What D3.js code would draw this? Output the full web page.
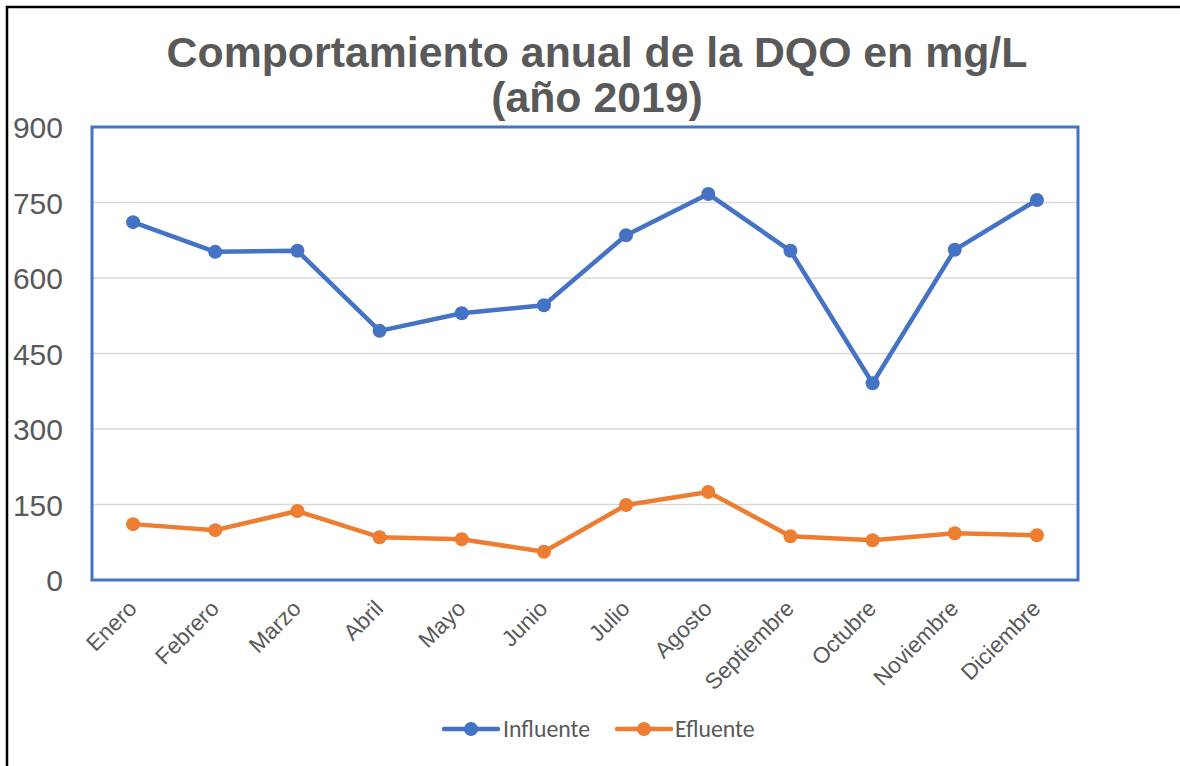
<!DOCTYPE html>
<html><head><meta charset="utf-8">
<script src="https://cdn.jsdelivr.net/npm/d3@7"></script>
<style>body{margin:0;background:#fff}svg{display:block}</style>
</head><body>
<svg id="c" width="1180" height="766"></svg>
<script>
const months = ["Enero","Febrero","Marzo","Abril","Mayo","Junio","Julio","Agosto","Septiembre","Octubre","Noviembre","Diciembre"];
const influente = [711, 652, 654, 495, 530, 546, 685, 767, 654, 391, 656, 755];
const efluente = [111, 99, 137, 85, 81, 56, 149, 175, 87, 79, 93, 89];
const yTicks = [0, 150, 300, 450, 600, 750, 900];
const titleLines = ["Comportamiento anual de la DQO en mg/L", "(año 2019)"];
const seriesNames = ["Influente", "Efluente"];
const colors = ["#4472C4", "#ED7D31"];

const svg = d3.select("#c");
const L = 92, R = 1078, T = 127, B = 580;
const x = d3.scaleBand().domain(months).range([L, R]);
const y = d3.scaleLinear().domain([0, 900]).range([B, T]);

// outer border
svg.append("path").attr("d", `M7,766 V7 H1180`).attr("fill","none").attr("stroke","#000").attr("stroke-width",2.5);

// title
[67, 112].forEach((ty, i) => {
  svg.append("text").attr("x", 597).attr("y", ty).attr("text-anchor","middle")
    .attr("font-family","Liberation Sans, Arial, sans-serif").attr("font-weight","bold")
    .attr("font-size",42.8).attr("fill","#595959").text(titleLines[i]);
});

// gridlines
svg.append("g").selectAll("line").data(yTicks.filter(d => d > 0 && d < 900)).join("line")
  .attr("x1", L).attr("x2", R).attr("y1", d => y(d)).attr("y2", d => y(d))
  .attr("stroke","#d9d9d9").attr("stroke-width",1.3);

// y axis labels
const yAxis = d3.axisLeft(y).tickValues(yTicks).tickSize(0).tickPadding(0);
const gy = svg.append("g").attr("transform", `translate(63,0)`).call(yAxis);
gy.select(".domain").remove();
gy.selectAll("text").attr("font-family","Liberation Sans, Arial, sans-serif").attr("font-size",30)
  .attr("fill","#595959").attr("dy","0.36em");

// x axis labels
const xAxis = d3.axisBottom(x).tickSize(0).tickPadding(0);
const gx = svg.append("g").attr("transform", `translate(0,${B})`).call(xAxis);
gx.select(".domain").remove();
gx.selectAll("text").attr("font-family","Liberation Sans, Arial, sans-serif").attr("font-size",22.5)
  .attr("fill","#595959").attr("text-anchor","end").attr("dy",0)
  .attr("transform", "translate(5,30) rotate(-45)")
  .attr("y",0).attr("x",0);

// plot border
svg.append("rect").attr("x", L).attr("y", T).attr("width", R - L).attr("height", B - T)
  .attr("fill","none").attr("stroke","#4472C4").attr("stroke-width",3);

const cx = d => x(d) + x.bandwidth()/2;
[influente, efluente].forEach((vals, i) => {
  const data = months.map((m, j) => ({m, v: vals[j]}));
  svg.append("path").datum(data)
    .attr("d", d3.line().x(d => cx(d.m)).y(d => y(d.v)))
    .attr("fill","none").attr("stroke", colors[i]).attr("stroke-width",4.5).attr("stroke-linejoin","round");
  svg.append("g").selectAll("circle").data(data).join("circle")
    .attr("cx", d => cx(d.m)).attr("cy", d => y(d.v)).attr("r", 7).attr("fill", colors[i]);
});

// legend
const leg = [{x: 444, tx: 503}, {x: 617, tx: 675}];
seriesNames.forEach((n, i) => {
  const g = svg.append("g");
  g.append("line").attr("x1", leg[i].x).attr("x2", leg[i].x + 54).attr("y1", 729).attr("y2", 729)
    .attr("stroke", colors[i]).attr("stroke-width",4.5).attr("stroke-linecap","round");
  g.append("circle").attr("cx", leg[i].x + 27).attr("cy", 729).attr("r", 7).attr("fill", colors[i]);
  g.append("text").attr("x", leg[i].tx).attr("y", 737).attr("font-family","Carlito, Lato, sans-serif")
    .attr("font-size",23.8).attr("fill","#595959").text(n);
});
</script>
</body></html>
